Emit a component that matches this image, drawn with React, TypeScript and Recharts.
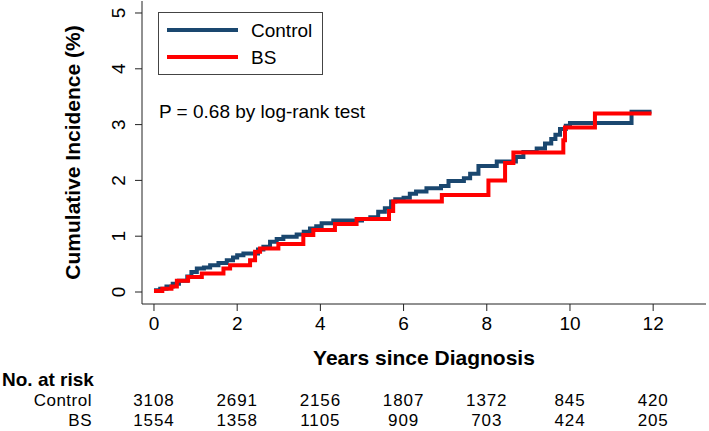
import React from 'react'
import { LineChart, Line, XAxis, YAxis } from 'recharts'

// step points (years, cumulative incidence %)
const controlTimes = [0, 0.15, 0.3, 0.45, 0.6, 0.8, 0.9, 1.03, 1.2, 1.35, 1.55, 1.75, 1.9, 2.0, 2.15, 2.5, 2.63, 2.79, 2.95, 3.11, 3.43, 3.6, 3.75, 3.9, 4.03, 4.31, 5.0, 5.2, 5.39, 5.55, 5.7, 5.8, 6.0, 6.15, 6.3, 6.55, 6.9, 7.08, 7.45, 7.6, 7.8, 8.24, 8.7, 8.88, 9.2, 9.4, 9.55, 9.65, 9.76, 9.9, 10.0, 11.48, 11.96]
const controlValues = [0.03, 0.06, 0.1, 0.15, 0.2, 0.28, 0.36, 0.42, 0.44, 0.48, 0.52, 0.57, 0.62, 0.66, 0.69, 0.76, 0.81, 0.9, 0.95, 0.99, 1.03, 1.08, 1.14, 1.18, 1.23, 1.28, 1.31, 1.34, 1.44, 1.5, 1.62, 1.66, 1.69, 1.76, 1.8, 1.86, 1.9, 1.99, 2.04, 2.12, 2.26, 2.34, 2.42, 2.51, 2.57, 2.66, 2.74, 2.82, 2.92, 2.98, 3.03, 3.23, 3.23]
const bsTimes = [0, 0.2, 0.42, 0.55, 0.82, 1.15, 1.67, 1.83, 2.31, 2.43, 2.55, 2.99, 3.59, 3.83, 4.35, 4.87, 5.65, 5.75, 6.92, 8.04, 8.44, 8.64, 9.84, 9.88, 10.6, 11.96]
const bsValues = [0.02, 0.06, 0.1, 0.2, 0.27, 0.33, 0.42, 0.48, 0.57, 0.72, 0.78, 0.86, 1.02, 1.11, 1.22, 1.31, 1.45, 1.62, 1.74, 2.0, 2.31, 2.5, 2.72, 2.95, 3.2, 3.2]

const xTicks = [0, 2, 4, 6, 8, 10, 12]
const yTicks = [0, 1, 2, 3, 4, 5]
const controlAtRisk = [3108, 2691, 2156, 1807, 1372, 845, 420]
const bsAtRisk = [1554, 1358, 1105, 909, 703, 424, 205]

const controlData = controlTimes.map((t, i) => ({ t, v: controlValues[i] }))
const bsData = bsTimes.map((t, i) => ({ t, v: bsValues[i] }))

const NAVY = '#1a476f'
const RED = '#ff0000'
const FONT = '"Liberation Sans", Arial, Helvetica, sans-serif'

function XTick(props: any) {
  const { x, payload } = props
  const i = xTicks.indexOf(payload.value)
  return (
    <g fontFamily={FONT} fill="#000">
      <text x={x} y={330} textAnchor="middle" fontSize={19}>{payload.value}</text>
      <text x={x} y={406} textAnchor="middle" fontSize={17} letterSpacing={0.9}>{controlAtRisk[i]}</text>
      <text x={x} y={426} textAnchor="middle" fontSize={17} letterSpacing={0.9}>{bsAtRisk[i]}</text>
    </g>
  )
}

function YTick(props: any) {
  const { y, payload } = props
  return (
    <text x={125} y={y} transform={`rotate(-90 125 ${y})`} textAnchor="middle"
      fontFamily={FONT} fontSize={19} fill="#000">
      {payload.value}
    </text>
  )
}

export default function App() {
  return (
    <div style={{ position: 'absolute', left: 0, top: 0, width: 709, height: 431, background: '#fff', fontFamily: FONT }}>
      <LineChart width={709} height={431} margin={{ top: 1, right: 3, bottom: 97, left: 82 }}>
        <XAxis type="number" dataKey="t" domain={[-0.288, 13.27]} ticks={xTicks} allowDataOverflow
          height={30} tickSize={7} tick={<XTick />} stroke="#222" />
        <YAxis type="number" dataKey="v" domain={[-0.215, 5.215]} ticks={yTicks} allowDataOverflow
          width={60} tickSize={7} tick={<YTick />} stroke="#222" />
        <Line data={controlData} dataKey="v" type="stepAfter" stroke={NAVY} strokeWidth={4}
          dot={false} isAnimationActive={false} />
        <Line data={bsData} dataKey="v" type="stepAfter" stroke={RED} strokeWidth={4}
          dot={false} isAnimationActive={false} />
      </LineChart>
      <svg width={709} height={431} style={{ position: 'absolute', left: 0, top: 0, pointerEvents: 'none' }}
        fontFamily={FONT} fill="#000">
        <rect x={158.5} y={12.5} width={164} height={62} fill="#fff" stroke="#444" strokeWidth={1} />
        <line x1={167} x2={238} y1={30} y2={30} stroke={NAVY} strokeWidth={4} />
        <line x1={167} x2={238} y1={57} y2={57} stroke={RED} strokeWidth={4} />
        <text x={251} y={37} fontSize={19}>Control</text>
        <text x={251} y={64} fontSize={19}>BS</text>
        <text x={159} y={118} fontSize={19}>P = 0.68 by log-rank test</text>
        <text x={79.5} y={152.5} transform="rotate(-90 79.5 152.5)" textAnchor="middle" fontSize={21} fontWeight="bold">
          Cumulative Incidence (%)
        </text>
        <text x={424} y={364.5} textAnchor="middle" fontSize={21} fontWeight="bold">Years since Diagnosis</text>
        <text x={2} y={386} fontSize={19} fontWeight="bold">No. at risk</text>
        <text x={92} y={406} textAnchor="end" fontSize={17} letterSpacing={0.5}>Control</text>
        <text x={92} y={426} textAnchor="end" fontSize={17} letterSpacing={0.5}>BS</text>
      </svg>
    </div>
  )
}
